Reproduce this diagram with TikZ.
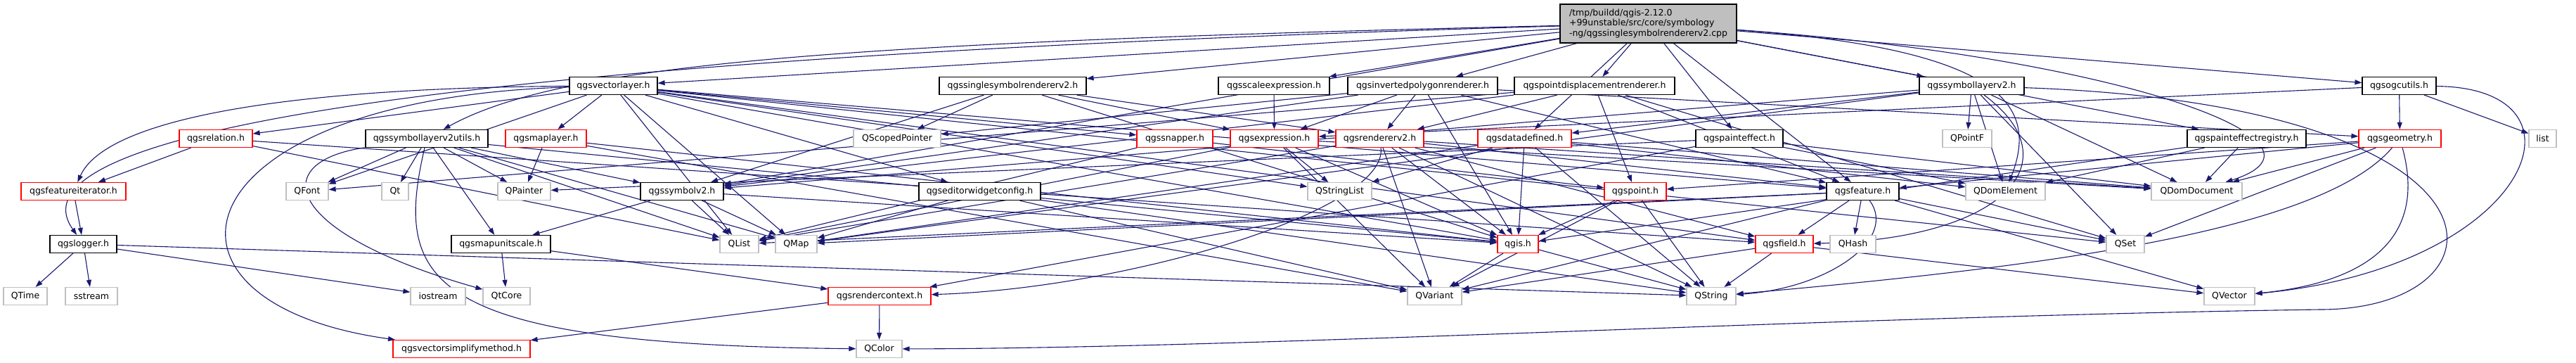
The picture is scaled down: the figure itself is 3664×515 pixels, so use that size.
\documentclass[tikz,border=0pt]{standalone}
\usepackage{fontspec}
\setmainfont{DejaVu Sans}
\usetikzlibrary{arrows.meta,backgrounds}
\definecolor{edgeblue}{HTML}{191970}
\definecolor{extgrey}{HTML}{BFBFBF}
\tikzset{
  file/.style={draw, fill=white, line width=1.2pt, minimum height=25pt, inner sep=0pt,
    font=\fontsize{12.5}{14.5}\selectfont},
  doc/.style={file, draw=black},
  part/.style={file, draw=red},
  ext/.style={file, draw=extgrey},
  dep/.style={draw=edgeblue, line width=1.1pt, -{Triangle[length=10pt,width=7pt]}},
}
\begin{document}
\begin{tikzpicture}[x=1pt,y=-1pt]
\useasboundingbox (0,0) rectangle (3664,515);
% source file
\node[doc, fill=extgrey, minimum width=251pt, minimum height=55pt, align=left] (top) at (2344.5,33.5)
  {/tmp/buildd/qgis-2.12.0\\+99unstable/src/core/symbology\\-ng/qgssinglesymbolrendererv2.cpp};
% row 2
\node[doc, minimum width=125pt] (vl) at (872.5,122) {qgsvectorlayer.h};
\node[doc, minimum width=209pt] (ssr) at (1440.5,122) {qgssinglesymbolrendererv2.h};
\node[doc, minimum width=158pt] (sce) at (1812,122) {qgsscaleexpression.h};
\node[doc, minimum width=213pt] (ipr) at (2023.5,122) {qgsinvertedpolygonrenderer.h};
\node[doc, minimum width=228pt] (pdr) at (2268,122) {qgspointdisplacementrenderer.h};
\node[doc, minimum width=149pt] (sl) at (2804.5,122) {qgssymbollayerv2.h};
\node[doc, minimum width=105pt] (ogc) at (3412.5,122) {qgsogcutils.h};
% row 3
\node[part, minimum width=104pt] (rel) at (307,197) {qgsrelation.h};
\node[doc, minimum width=174pt] (slu) at (607,197) {qgssymbollayerv2utils.h};
\node[part, minimum width=115pt] (ml) at (776.5,197) {qgsmaplayer.h};
\node[ext, minimum width=124pt] (qsp) at (1276,197) {QScopedPointer};
\node[part, minimum width=108pt] (snap) at (1671,197) {qgssnapper.h};
\node[part, minimum width=125pt] (expr) at (1812.5,197) {qgsexpression.h};
\node[part, minimum width=125pt] (rend) at (1962.5,197) {qgsrendererv2.h};
\node[part, minimum width=133pt] (dd) at (2168.5,197) {qgsdatadefined.h};
\node[doc, minimum width=124pt] (pe) at (2474,197) {qgspainteffect.h};
\node[ext, minimum width=70pt] (qpf) at (2798,197) {QPointF};
\node[doc, minimum width=169pt] (per) at (3195.5,197) {qgspainteffectregistry.h};
\node[part, minimum width=117pt] (geom) at (3413.5,197) {qgsgeometry.h};
\node[ext, minimum width=39pt] (lst) at (3616.5,197) {list};
% row 4
\node[part, minimum width=149pt] (fi) at (104.5,272) {qgsfeatureiterator.h};
\node[ext, minimum width=60pt] (qfont) at (437,272) {QFont};
\node[ext, minimum width=38pt] (qt) at (562,272) {Qt};
\node[ext, minimum width=75pt] (qpainter) at (745.5,272) {QPainter};
\node[doc, minimum width=118pt] (sym) at (970,272) {qgssymbolv2.h};
\node[doc, minimum width=173pt] (ewc) at (1393.5,272) {qgseditorwidgetconfig.h};
\node[ext, minimum width=91pt] (qsl) at (1905.5,272) {QStringList};
\node[part, minimum width=88pt] (pt) at (2326,272) {qgspoint.h};
\node[doc, minimum width=103pt] (feat) at (2649.5,272) {qgsfeature.h};
\node[ext, minimum width=113pt] (qde) at (2852.5,272) {QDomElement};
\node[ext, minimum width=129pt] (qdd) at (3124.5,272) {QDomDocument};
% row 5
\node[doc, minimum width=95pt] (log) at (118.5,347) {qgslogger.h};
\node[doc, minimum width=141pt] (mus) at (712.5,347) {qgsmapunitscale.h};
\node[ext, minimum width=55pt] (qlist) at (1051.5,347) {QList};
\node[ext, minimum width=59pt] (qmap) at (1132.5,347) {QMap};
\node[part, minimum width=58pt] (qgis) at (2159,347) {qgis.h};
\node[part, minimum width=82pt] (fld) at (2538,347) {qgsfield.h};
\node[ext, minimum width=65pt] (qhash) at (2635.5,347) {QHash};
\node[ext, minimum width=54pt] (qset) at (3023,347) {QSet};
% row 6
\node[ext, minimum width=62pt] (qtime) at (36,421) {QTime};
\node[ext, minimum width=74pt] (sst) at (130,421) {sstream};
\node[ext, minimum width=78pt] (ios) at (623,421) {iostream};
\node[ext, minimum width=67pt] (qtcore) at (720.5,421) {QtCore};
\node[part, minimum width=146pt] (rc) at (1251,421) {qgsrendercontext.h};
\node[ext, minimum width=77pt] (qvar) at (2040.5,421) {QVariant};
\node[ext, minimum width=70pt] (qstr) at (2434,421) {QString};
\node[ext, minimum width=72pt] (qvec) at (3171,421) {QVector};
% row 7
\node[part, minimum width=195pt] (vsm) at (656.5,496) {qgsvectorsimplifymethod.h};
\node[ext, minimum width=65pt] (qcol) at (1250.5,496) {QColor};
\begin{pgfonlayer}{background}
\fill[white] (0,0) rectangle (3664,515);
% includes of the source file
\draw[dep] (top) -- (vl);
\draw[dep] (top) -- (ssr);
\draw[dep] (top) -- (sce);
\draw[dep] (top) -- (ipr);
\draw[dep] (top) -- (pdr);
\draw[dep] (top) -- (sl);
\draw[dep] (top) -- (ogc);
\draw[dep] (top) -- (pe);
\draw[dep] (top) -- (per);
\draw[dep] (top) -- (dd);
\draw[dep] (top) -- (feat);
\draw[dep] (top) .. controls (2850,70) and (2900,150) .. (qde);
\draw[dep] (top) .. controls (3000,80) and (3350,200) .. (qdd);
\draw[dep] (top) -- (sym);
\draw[dep] (top) .. controls (1200,60) and (800,90) .. (slu);
\draw[dep] (top) .. controls (700,80) and (0,180) .. (log);
% qgsvectorlayer.h
\draw[dep] (vl) -- (rel);
\draw[dep] (vl) -- (ml);
\draw[dep] (vl) .. controls (400,125) and (150,170) .. (fi);
\draw[dep] (vl) .. controls (250,140) and (180,430) .. (vsm);
\draw[dep] (vl) -- (qfont);
\draw[dep] (vl) -- (qlist);
\draw[dep] (vl) -- (qmap);
\draw[dep] (vl) -- (snap);
\draw[dep] (vl) -- (ewc);
\draw[dep] (vl) -- (qsl);
\draw[dep] (vl) -- (qgis);
\draw[dep] (vl) -- (feat);
\draw[dep] (vl) -- (fld);
\draw[dep] (vl) -- (qset);
% renderers
\draw[dep] (ssr) -- (qsp);
\draw[dep] (ssr) -- (expr);
\draw[dep] (ssr) -- (rend);
\draw[dep] (ssr) -- (sym);
\draw[dep] (ssr) -- (qgis);
\draw[dep] (sce) -- (expr);
\draw[dep] (ipr) -- (qgis);
\draw[dep] (ipr) -- (rend);
\draw[dep] (ipr) -- (sym);
\draw[dep] (ipr) -- (expr);
\draw[dep] (ipr) -- (feat);
\draw[dep] (ipr) -- (geom);
\draw[dep] (ipr) -- (qsp);
\draw[dep] (pdr) -- (feat);
\draw[dep] (pdr) -- (sym);
\draw[dep] (pdr) -- (pt);
\draw[dep] (pdr) -- (rend);
\draw[dep] (pdr) -- (qfont);
\draw[dep] (pdr) -- (qset);
% qgssymbollayerv2.h
\draw[dep] (sl) -- (qpf);
\draw[dep] (sl) -- (qde);
\draw[dep] (sl) -- (qset);
\draw[dep] (sl) -- (qdd);
\draw[dep] (sl) .. controls (2950,230) and (2850,340) .. (fld);
\draw[dep] (sl) -- (sym);
\draw[dep] (sl) .. controls (3600,150) and (3580,440) .. (3300,440) .. controls (2600,450) and (1800,495) .. (qcol);
\draw[dep] (sl) -- (qmap);
\draw[dep] (sl) -- (dd);
% qgsogcutils.h
\draw[dep] (ogc) -- (lst);
\draw[dep] (ogc) .. controls (3700,125) and (3600,380) .. (qvec);
\draw[dep] (ogc) -- (geom);
\draw[dep] (ogc) -- (expr);
% row 3 headers
\draw[dep] (rel) -- (fi);
\draw[dep] (rel) -- (qlist);
\draw[dep] (rel) -- (fld);
\draw[dep] (slu) -- (qmap);
\draw[dep] (slu) -- (qt);
\draw[dep] (slu) .. controls (380,230) and (400,330) .. (qtcore);
\draw[dep] (slu) -- (qfont);
\draw[dep] (slu) .. controls (560,400) and (600,490) .. (qcol);
\draw[dep] (slu) -- (qpainter);
\draw[dep] (slu) -- (sym);
\draw[dep] (slu) -- (qgis);
\draw[dep] (slu) -- (mus);
\draw[dep] (slu) -- (qlist);
\draw[dep] (ml) -- (qpainter);
\draw[dep] (ml) -- (qvar);
\draw[dep] (ml) -- (qgis);
\draw[dep] (snap) -- (pt);
\draw[dep] (snap) -- (qlist);
\draw[dep] (expr) -- (qsl);
\draw[dep] (expr) -- (qvar);
\draw[dep] (expr) -- (qlist);
\draw[dep] (expr) -- (qdd);
\draw[dep] (expr) -- (qgis);
\draw[dep] (rend) -- (qgis);
\draw[dep] (rend) -- (qvar);
\draw[dep] (rend) .. controls (1975,300) and (1600,410) .. (rc);
\draw[dep] (rend) -- (qstr);
\draw[dep] (rend) -- (feat);
\draw[dep] (rend) -- (fld);
\draw[dep] (rend) -- (qlist);
\draw[dep] (rend) -- (qdd);
\draw[dep] (dd) -- (qsl);
\draw[dep] (dd) -- (qgis);
\draw[dep] (dd) -- (qmap);
\draw[dep] (dd) -- (qde);
\draw[dep] (dd) -- (qdd);
\draw[dep] (dd) -- (qstr);
\draw[dep] (pe) -- (qde);
\draw[dep] (pe) -- (qdd);
\draw[dep] (pe) -- (rc);
\draw[dep] (pe) -- (qpainter);
\draw[dep] (per) -- (qde);
\draw[dep] (per) -- (qdd);
\draw[dep] (per) -- (qgis);
\draw[dep] (geom) -- (qdd);
\draw[dep] (geom) -- (qset);
\draw[dep] (geom) .. controls (3300,330) and (2900,380) .. (qstr);
\draw[dep] (geom) .. controls (3450,330) and (3380,400) .. (qvec);
\draw[dep] (geom) -- (feat);
\draw[dep] (geom) -- (pt);
% row 4 headers
\draw[dep] (fi) -- (log);
\draw[dep] (sym) -- (qlist);
\draw[dep] (sym) -- (qmap);
\draw[dep] (sym) -- (mus);
\draw[dep] (sym) -- (qgis);
\draw[dep] (ewc) -- (qvar);
\draw[dep] (ewc) -- (qstr);
\draw[dep] (ewc) -- (qmap);
\draw[dep] (pt) -- (qgis);
\draw[dep] (pt) -- (qvar);
\draw[dep] (pt) -- (qstr);
\draw[dep] (feat) -- (fld);
\draw[dep] (feat) -- (qhash);
\draw[dep] (feat) .. controls (2700,340) and (2600,410) .. (qstr);
\draw[dep] (feat) -- (qset);
\draw[dep] (feat) -- (qvec);
\draw[dep] (feat) -- (qvar);
\draw[dep] (feat) -- (qmap);
\draw[dep] (feat) -- (qlist);
% row 5 and below
\draw[dep] (log) -- (qtime);
\draw[dep] (log) -- (sst);
\draw[dep] (log) -- (ios);
\draw[dep] (log) -- (qstr);
\draw[dep] (mus) -- (qtcore);
\draw[dep] (mus) -- (rc);
\draw[dep] (qgis) -- (qvar);
\draw[dep] (qgis) -- (qstr);
\draw[dep] (fld) -- (qstr);
\draw[dep] (fld) -- (qvar);
\draw[dep] (fld) -- (qvec);
\draw[dep] (rc) -- (qcol);
\draw[dep] (rc) -- (vsm);
\end{pgfonlayer}
\end{tikzpicture}
\end{document}
